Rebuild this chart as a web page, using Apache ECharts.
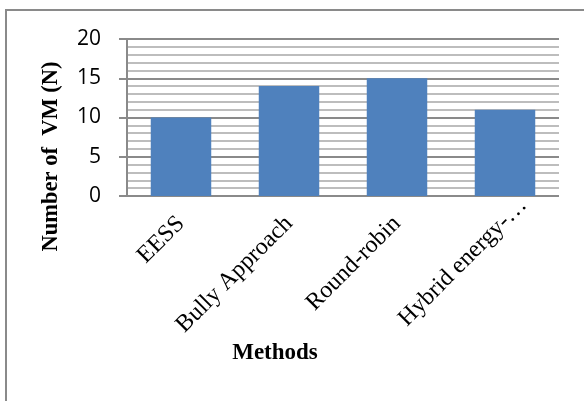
<!DOCTYPE html>
<html>
<head>
<meta charset="utf-8">
<script src="https://cdn.jsdelivr.net/npm/echarts@6/dist/echarts.min.js"></script>
<style>
  html, body { margin: 0; padding: 0; background: #fff; }
  #chart { width: 584px; height: 401px; }
</style>
</head>
<body>
<div id="chart"></div>
<script>
// Methods compared and the number of VMs each one uses
const methods = ['EESS', 'Bully Approach', 'Round-robin', 'Hybrid energy-…'];
const vmCounts = [10, 14, 15, 11];
const yTicks = { min: 0, max: 20, step: 5 };

const chart = echarts.init(document.getElementById('chart'), null, { renderer: 'canvas' });

// the truncated last label runs a little past its tick
const categoryData = methods.map((m, i) =>
  i === methods.length - 1 ? { value: m, textStyle: { padding: [0, -26, 0, 0] } } : m
);

chart.setOption({
  animation: false,
  backgroundColor: '#ffffff',
  graphic: [
    // frame around the chart area
    { type: 'polyline', shape: { points: [[6, 401], [6, 10], [584, 10]] },
      style: { stroke: '#8a8a8a', lineWidth: 2, fill: null } }
  ],
  grid: { left: 127, right: 25, top: 39, bottom: 205 },
  xAxis: {
    type: 'category',
    data: categoryData,
    name: 'Methods',
    nameLocation: 'middle',
    nameGap: 146,
    nameMoveOverlap: false,
    nameTextStyle: {
      fontFamily: 'Liberation Serif', fontWeight: 'bold', fontSize: 23, color: '#000',
      padding: [0, 136, 0, 0]
    },
    axisLine: { show: false },
    axisTick: { show: false },
    axisLabel: {
      rotate: 45, margin: 24, interval: 0,
      fontFamily: 'Liberation Serif', fontSize: 24, color: '#000'
    }
  },
  yAxis: {
    type: 'value',
    min: yTicks.min, max: yTicks.max, interval: yTicks.step,
    name: 'Number of  VM (N)',
    nameLocation: 'middle',
    nameGap: 64,
    nameRotate: 90,
    nameMoveOverlap: false,
    nameTextStyle: {
      fontFamily: 'Liberation Serif', fontWeight: 'bold', fontSize: 22.5, color: '#000',
      padding: [0, 78, 0, 0]
    },
    axisLine: { show: true, lineStyle: { color: '#8a8a8a', width: 2 } },
    axisTick: { show: true, inside: false, length: 8, lineStyle: { color: '#8a8a8a', width: 2 } },
    axisLabel: {
      margin: 26,
      fontFamily: 'Open Sans', fontSize: 21, color: '#000'
    },
    splitLine: { show: true, lineStyle: { color: '#8a8a8a', width: 2 } },
    minorTick: { show: false, splitNumber: 5 },
    minorSplitLine: { show: true, lineStyle: { color: '#bdbdbd', width: 2 } }
  },
  series: [{
    type: 'bar',
    data: vmCounts,
    barWidth: '56%',
    itemStyle: { color: '#4f81bd' }
  }]
});
</script>
</body>
</html>
